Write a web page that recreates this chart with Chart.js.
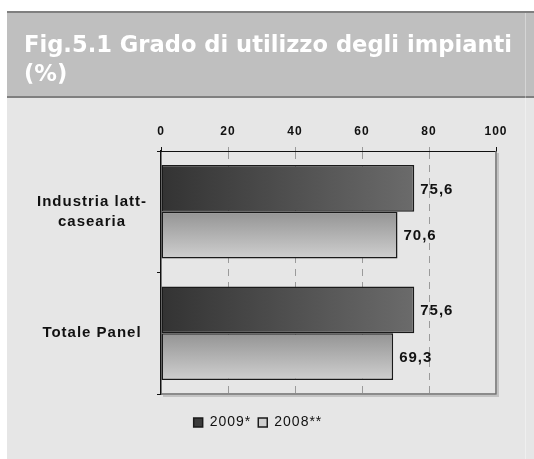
<!DOCTYPE html>
<html>
<head>
<meta charset="utf-8">
<script src="https://cdn.jsdelivr.net/npm/chart.js@4.4.1/dist/chart.umd.min.js"></script>
<style>
  html, body { margin: 0; padding: 0; background: #fff; }
  canvas { display: block; }
</style>
</head>
<body>
<canvas id="utilizzoChart" width="534" height="459"></canvas>
<script>
const titleLines = ["Fig.5.1 Grado di utilizzo degli impianti", "(%)"];
const categories = [["Industria latt-", "casearia"], "Totale Panel"];
const seriesNames = ["2009*", "2008**"];
const values2009 = [75.6, 75.6];
const values2008 = [70.6, 69.3];
const xTicks = [0, 20, 40, 60, 80, 100];

const labelFont = "'Liberation Sans', Arial, sans-serif";

// 2009 bars: dark, shaded left to right
function darkFill(context) {
    const chart = context.chart;
    if (context.dataIndex === undefined || !chart.chartArea) return "#4d4d4d";
    const x = chart.scales.x;
    const g = chart.ctx.createLinearGradient(x.getPixelForValue(0), 0, x.getPixelForValue(context.raw), 0);
    g.addColorStop(0, "#333333");
    g.addColorStop(1, "#6b6b6b");
    return g;
}

// 2008 bars: light, shaded top to bottom
function lightFill(context) {
    const chart = context.chart;
    if (context.dataIndex === undefined || !chart.chartArea) return "#b4b4b4";
    const y = chart.scales.y;
    const c = y.getPixelForValue(context.dataIndex);
    const h = (y.height / categories.length) * 0.77 / 2;
    const g = chart.ctx.createLinearGradient(0, c, 0, c + h);
    g.addColorStop(0, "#949494");
    g.addColorStop(1, "#cfcfcf");
    return g;
}

const backdrop = {
    id: "backdrop",
    beforeUpdate(chart) {
        chart.ctx.letterSpacing = "1px";
    },
    afterLayout(chart) {
        // leave a gap between plot and legend
        chart.legend.top += 14.5;
        chart.legend.bottom += 14.5;
    },
    beforeDraw(chart) {
        const ctx = chart.ctx;
        ctx.save();
        ctx.letterSpacing = "0px";
        ctx.fillStyle = "#ffffff";
        ctx.fillRect(0, 0, chart.width, chart.height);
        ctx.fillStyle = "#bfbfbf";
        ctx.fillRect(7, 12, 527, 85);
        ctx.fillStyle = "#7f7f7f";
        ctx.fillRect(7, 11, 527, 2);
        ctx.fillRect(7, 96, 527, 2);
        ctx.fillStyle = "#e6e6e6";
        ctx.fillRect(7, 98, 527, 361);
        ctx.fillStyle = "rgba(255,255,255,0.35)";
        ctx.fillRect(525, 13, 1, 446);

        ctx.fillStyle = "#ffffff";
        ctx.font = "bold 22.6px 'DejaVu Sans', Verdana, sans-serif";
        ctx.textBaseline = "alphabetic";
        ctx.fillText(titleLines[0], 24, 52);
        ctx.fillText(titleLines[1], 24, 81);
        ctx.restore();
        ctx.letterSpacing = "1px";
    },
    beforeDatasetsDraw(chart) {
        const ctx = chart.ctx;
        const a = chart.chartArea;
        ctx.save();
        ctx.strokeStyle = "rgba(0,0,0,0.15)";
        ctx.lineWidth = 2;
        ctx.beginPath();
        ctx.moveTo(a.right + 2, a.top + 2);
        ctx.lineTo(a.right + 2, a.bottom + 2);
        ctx.lineTo(a.left + 2, a.bottom + 2);
        ctx.stroke();
        ctx.strokeStyle = "#6e6e6e";
        ctx.lineWidth = 1.5;
        ctx.beginPath();
        ctx.moveTo(a.right, a.top);
        ctx.lineTo(a.right, a.bottom);
        ctx.lineTo(a.left, a.bottom);
        ctx.stroke();
        ctx.restore();
    },
    afterDatasetsDraw(chart) {
        const ctx = chart.ctx;
        ctx.save();
        ctx.font = "bold 15px " + labelFont;
        ctx.fillStyle = "#111111";
        ctx.textBaseline = "middle";
        ctx.textAlign = "left";
        chart.data.datasets.forEach((ds, i) => {
            chart.getDatasetMeta(i).data.forEach((bar, j) => {
                ctx.fillText(ds.data[j].toFixed(1).replace(".", ","), bar.x + 6, bar.y + 1);
            });
        });
        ctx.restore();
    }
};

new Chart(document.getElementById("utilizzoChart"), {
    type: "bar",
    data: {
        labels: categories,
        datasets: [{
            label: seriesNames[0],
            data: values2009,
            backgroundColor: darkFill,
            borderColor: "#1a1a1a",
            borderWidth: 1.5,
            borderSkipped: false
        }, {
            label: seriesNames[1],
            data: values2008,
            backgroundColor: lightFill,
            borderColor: "#1a1a1a",
            borderWidth: 1.5,
            borderSkipped: false
        }]
    },
    options: {
        indexAxis: "y",
        responsive: false,
        devicePixelRatio: 1,
        animation: false,
        categoryPercentage: 0.77,
        barPercentage: 1.0,
        layout: {
            autoPadding: false,
            padding: { left: 20, right: 38, top: 116.6, bottom: 34 }
        },
        scales: {
            x: {
                position: "top",
                min: xTicks[0],
                max: xTicks[xTicks.length - 1],
                ticks: {
                    stepSize: xTicks[1] - xTicks[0],
                    padding: 8,
                    color: "#111111",
                    font: { family: labelFont, size: 12, weight: "bold" }
                },
                grid: {
                    color: (c) => (c.tick && (c.tick.value === 0 || c.tick.value === 100)) ? "rgba(0,0,0,0)" : "#9a9a9a",
                    tickColor: (c) => (c.tick && (c.tick.value === 0 || c.tick.value === 100)) ? "#111111" : "#9a9a9a",
                    tickLength: 4,
                    lineWidth: 1
                },
                border: { color: "#111111", width: 1, dash: [7, 6] }
            },
            y: {
                afterFit: (scale) => { scale.width = 141; },
                ticks: {
                    crossAlign: "center",
                    padding: 10,
                    color: "#111111",
                    font: { family: labelFont, size: 15, weight: "bold", lineHeight: 1.3 }
                },
                grid: {
                    offset: true,
                    drawOnChartArea: false,
                    tickLength: 4,
                    tickColor: "#111111"
                },
                border: { color: "#111111", width: 1.5 }
            }
        },
        plugins: {
            tooltip: { enabled: false },
            title: { display: false },
            legend: {
                position: "bottom",
                labels: {
                    boxWidth: 9,
                    boxHeight: 9,
                    padding: 7,
                    color: "#111111",
                    font: { family: labelFont, size: 14 }
                }
            }
        }
    },
    plugins: [backdrop]
});
</script>
</body>
</html>
